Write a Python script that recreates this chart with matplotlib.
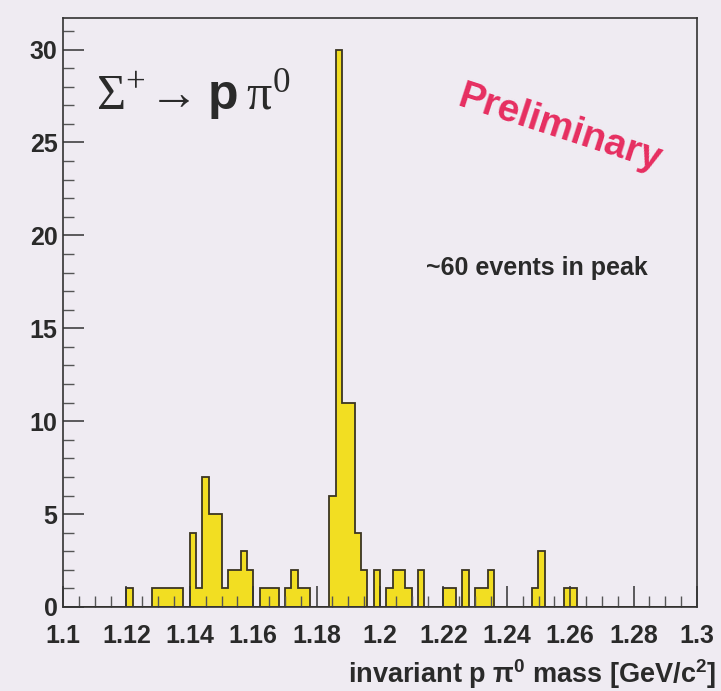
import numpy as np
import matplotlib.pyplot as plt
from matplotlib.ticker import MultipleLocator

# bin index (2 MeV bins starting at 1.1 GeV) -> entries
bin_index = [10, 14, 15, 16, 17, 18,
             20, 21, 22, 23, 24, 25, 26, 27, 28, 29,
             31, 32, 33, 35, 36, 37, 38,
             42, 43, 44, 45, 46, 47,
             49, 51, 52, 53, 54, 56,
             60, 61, 63, 65, 66, 67,
             74, 75, 79, 80]
entries = [1, 1, 1, 1, 1, 1,
           4, 1, 7, 5, 5, 1, 2, 2, 3, 2,
           1, 1, 1, 1, 2, 1, 1,
           6, 30, 11, 11, 4, 2,
           2, 1, 2, 2, 1, 2,
           1, 1, 2, 1, 1, 2,
           1, 3, 1, 1]

x_min, x_max, bin_w = 1.1, 1.3, 0.002
edges = np.linspace(x_min, x_max, 101)
centers = x_min + bin_w * (np.array(bin_index) + 0.5)

x_ticks = [1.1, 1.12, 1.14, 1.16, 1.18, 1.2, 1.22, 1.24, 1.26, 1.28, 1.3]
x_ticklabels = ["1.1", "1.12", "1.14", "1.16", "1.18", "1.2",
                "1.22", "1.24", "1.26", "1.28", "1.3"]
y_ticks = [0, 5, 10, 15, 20, 25, 30]

bg = "#efebf2"
fill = "#f2de22"
edge = "#3b3522"

plt.rcParams["mathtext.default"] = "regular"
plt.rcParams["mathtext.fontset"] = "custom"
plt.rcParams["mathtext.rm"] = "Liberation Serif"
plt.rcParams["mathtext.bf"] = "Liberation Sans:bold"

fig = plt.figure(figsize=(7.21, 6.91), dpi=100, facecolor=bg)
ax = fig.add_axes([63 / 721, 84 / 691, 634 / 721, 589 / 691], facecolor=bg)

ax.hist(centers, bins=edges, weights=entries, histtype="stepfilled",
        facecolor=fill, edgecolor=edge, linewidth=1.3)

ax.set_xlim(x_min, x_max)
ax.set_ylim(0, 31.7)
ax.set_xticks(x_ticks)
ax.set_xticklabels(x_ticklabels)
ax.set_yticks(y_ticks)
ax.xaxis.set_minor_locator(MultipleLocator(0.005))
ax.yaxis.set_minor_locator(MultipleLocator(1))
ax.tick_params(which="major", direction="in", length=15, width=1.1, color="#333333")
ax.tick_params(which="minor", direction="in", length=8, width=1.0, color="#555555")
ax.tick_params(axis="x", pad=12)
ax.tick_params(axis="y", pad=4)
for lab in ax.get_xticklabels() + ax.get_yticklabels():
    lab.set_fontfamily("Liberation Sans")
    lab.set_fontweight("bold")
    lab.set_fontsize(18)
    lab.set_color("#2a2a2a")
for sp in ax.spines.values():
    sp.set_color("#333333")
    sp.set_linewidth(1.2)

fig.text(716 / 721, 1 - 674 / 691, r"invariant p $\pi^{0}$ mass [GeV/c$^{2}$]",
         ha="right", va="center", family="Liberation Sans", weight="bold",
         fontsize=19.5, color="#2a2a2a")

ax.text(0.052, 0.845, r"$\Sigma^{+}\!\rightarrow \mathbf{p}\,\pi^{0}$",
        transform=ax.transAxes, family="Liberation Serif", fontsize=36,
        color="#2a2a2a", ha="left", va="baseline")

ax.text(0.783, 0.812, "Preliminary", transform=ax.transAxes, rotation=-18,
        rotation_mode="anchor", ha="center", va="center",
        family="Liberation Sans", weight="bold", fontsize=28, color="#e62e60")

ax.text(0.748, 0.575, "~60 events in peak", transform=ax.transAxes,
        ha="center", va="center", family="Liberation Sans", weight="bold",
        fontsize=18, color="#2a2a2a")

fig.savefig("out.png", dpi=100, facecolor=bg)
